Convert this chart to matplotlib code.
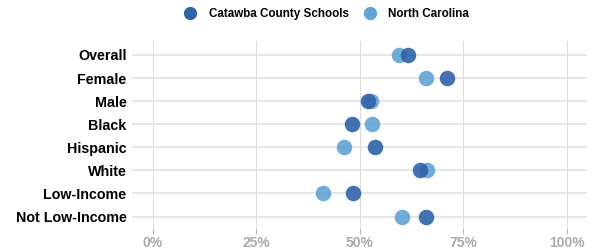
import matplotlib
matplotlib.use("Agg")
import matplotlib.pyplot as plt
from matplotlib.lines import Line2D

plt.rcParams["font.family"] = ["Liberation Sans", "DejaVu Sans"]

groups = ["Overall", "Female", "Male", "Black", "Hispanic", "White",
          "Low-Income", "Not Low-Income"]
catawba = [61.6, 71.2, 52.1, 48.1, 53.6, 64.6, 48.4, 66.1]
north_carolina = [59.4, 66.1, 52.7, 52.9, 46.3, 66.2, 41.1, 60.3]
x_ticks = [0, 25, 50, 75, 100]
x_labels = ["0%", "25%", "50%", "75%", "100%"]

dark = "#2f62a8"
light = "#5fa4d4"

fig = plt.figure(figsize=(5.92, 2.52), dpi=100)
ax = fig.add_axes([0.223, 0.095, 0.769, 0.742])

y = list(range(len(groups)))
ax.scatter(north_carolina, y, s=125, color=light, alpha=0.9, zorder=3, linewidths=0)
ax.scatter(catawba, y, s=125, color=dark, alpha=0.9, zorder=4, linewidths=0)

ax.set_xlim(-5, 105)
ax.set_ylim(7.5, -0.6)
ax.set_yticks(y)
ax.set_yticklabels(groups, fontsize=10.3, fontweight="bold", color="#000000")
ax.set_xticks(x_ticks)
ax.set_xticklabels(x_labels, fontsize=10, fontweight="bold", color="#aaaaaa")

ax.grid(axis="y", color="#e3e3e3", linewidth=1.2, zorder=0)
ax.grid(axis="x", color="#dcdcdc", linewidth=0.8, zorder=0)
ax.tick_params(axis="y", length=0, pad=4)
ax.tick_params(axis="x", length=4, color="#bbbbbb", pad=1.5)
for s in ax.spines.values():
    s.set_visible(False)

handles = [
    Line2D([], [], marker="o", linestyle="", markersize=8.5, color=dark, label="Catawba County Schools"),
    Line2D([], [], marker="o", linestyle="", markersize=8.5, color=light, label="North Carolina"),
]
fig.legend(handles=handles, loc="center", bbox_to_anchor=(0.547, 0.944), ncol=2,
           frameon=False, prop={"weight": "bold", "size": 8.4},
           handletextpad=0.6, columnspacing=0.8)

fig.savefig("out.png", dpi=100)
